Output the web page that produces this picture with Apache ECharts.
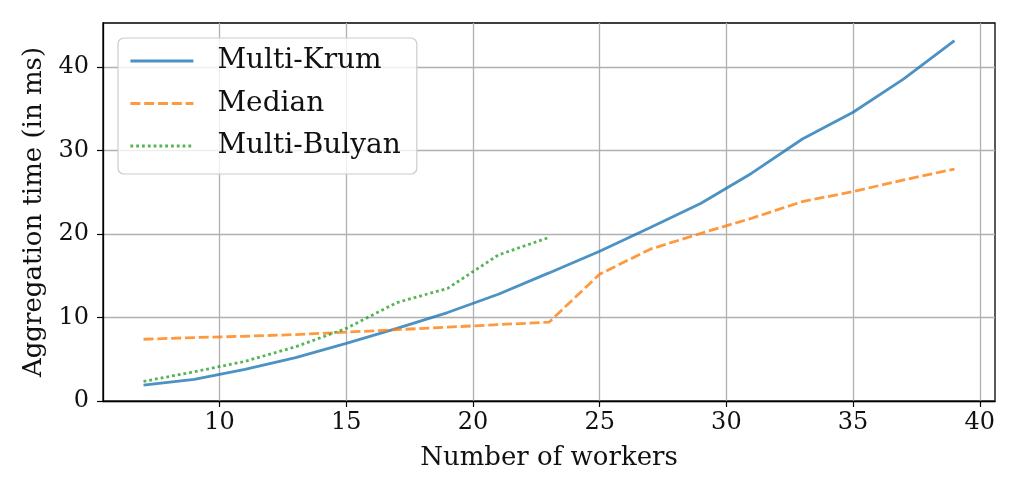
<!DOCTYPE html>
<html>
<head>
<meta charset="utf-8">
<script src="https://cdn.jsdelivr.net/npm/echarts@6/dist/echarts.min.js"></script>
<style>
html,body{margin:0;padding:0;background:#fff;}
#chart{width:1017px;height:496px;}
</style>
</head>
<body>
<div id="chart"></div>
<script>
const workers = [7, 9, 11, 13, 15, 17, 19, 21, 23, 25, 27, 29, 31, 33, 35, 37, 39];
const multiKrum = [1.9, 2.6, 3.8, 5.2, 6.9, 8.7, 10.6, 12.8, 15.35, 17.95, 20.8, 23.7, 27.3, 31.4, 34.6, 38.6, 43.2];
const median = [7.4, 7.6, 7.76, 7.96, 8.25, 8.55, 8.85, 9.15, 9.45, 15.2, 18.2, 20.1, 21.9, 23.9, 25.1, 26.5, 27.8];
const bulyanWorkers = [7, 9, 11, 13, 15, 17, 19, 21, 23];
const multiBulyan = [2.35, 3.5, 4.75, 6.5, 8.7, 11.8, 13.5, 17.5, 19.6];
const xTicks = [10, 15, 20, 25, 30, 35, 40];
const yTicks = [0, 10, 20, 30, 40];

const pairs = (xs, ys) => xs.map((x, i) => [x, ys[i]]);
const FONT = 'DejaVu Serif';

const chart = echarts.init(document.getElementById('chart'), null, {renderer: 'canvas'});
chart.setOption({
  animation: false,
  backgroundColor: '#fff',
  grid: {left: 103, right: 22, top: 23, bottom: 95, show: true, borderColor: '#000', borderWidth: 1.3, backgroundColor: 'transparent'},
  legend: {
    orient: 'vertical', left: 118, top: 38,
    padding: [8, 16, 13, 11],
    itemWidth: 63, itemHeight: 14, itemGap: 12.5,
    itemStyle: {opacity: 0},
    lineStyle: {width: 2.8},
    backgroundColor: 'rgba(255,255,255,0.8)', borderColor: '#cccccc', borderWidth: 1.2, borderRadius: 6,
    textStyle: {fontFamily: FONT, fontSize: 28, color: '#111', lineHeight: 30, padding: [0, 0, 0, 19]},
    data: ['Multi-Krum', 'Median', 'Multi-Bulyan']
  },
  xAxis: {
    type: 'value', min: 5.4, max: 40.6,
    name: 'Number of workers', nameLocation: 'middle', nameGap: 44,
    nameTextStyle: {fontFamily: FONT, fontSize: 26, color: '#111'},
    axisLine: {show: true, lineStyle: {color: '#000', width: 1.3}},
    axisTick: {show: true, length: 6, lineStyle: {color: '#000', width: 1.2}, customValues: xTicks},
    axisLabel: {fontFamily: FONT, fontSize: 24, color: '#111', margin: 10, customValues: xTicks},
    splitLine: {show: true, lineStyle: {color: '#b0b0b0', width: 1.3}}
  },
  yAxis: {
    type: 'value', min: 0, max: 45.3,
    name: 'Aggregation time (in ms)', nameLocation: 'middle', nameGap: 52, nameRotate: 90,
    nameTextStyle: {fontFamily: FONT, fontSize: 26, color: '#111'},
    axisLine: {show: true, lineStyle: {color: '#000', width: 1.3}},
    axisTick: {show: true, length: 6, lineStyle: {color: '#000', width: 1.2}, customValues: yTicks},
    axisLabel: {fontFamily: FONT, fontSize: 24, color: '#111', margin: 14, customValues: yTicks},
    splitLine: {show: true, lineStyle: {color: '#b0b0b0', width: 1.3}}
  },
  series: [
    {name: 'Multi-Krum', type: 'line', data: pairs(workers, multiKrum), symbol: 'none', showSymbol: false,
     lineStyle: {color: 'rgba(31,119,180,0.8)', width: 2.8, type: 'solid'}, itemStyle: {color: 'rgba(31,119,180,0.8)'}, z: 3},
    {name: 'Median', type: 'line', data: pairs(workers, median), symbol: 'none', showSymbol: false,
     lineStyle: {color: 'rgba(255,127,14,0.8)', width: 2.8, type: [10, 3.8]}, itemStyle: {color: 'rgba(255,127,14,0.8)'}, z: 3},
    {name: 'Multi-Bulyan', type: 'line', data: pairs(bulyanWorkers, multiBulyan), symbol: 'none', showSymbol: false,
     lineStyle: {color: 'rgba(44,160,44,0.8)', width: 2.8, type: [2.8, 3]}, itemStyle: {color: 'rgba(44,160,44,0.8)'}, z: 3}
  ]
});
</script>
</body>
</html>
